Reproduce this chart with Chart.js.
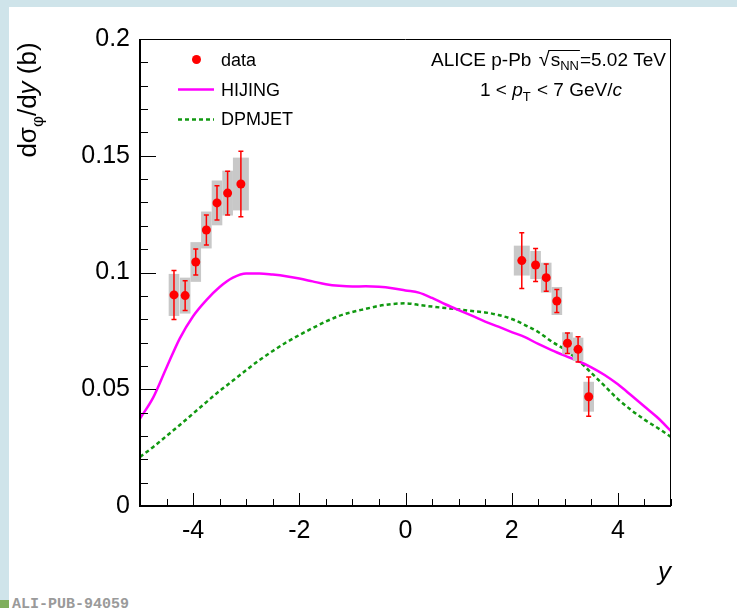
<!DOCTYPE html>
<html>
<head>
<meta charset="utf-8">
<script src="https://cdn.jsdelivr.net/npm/chart.js@4.4.1/dist/chart.umd.min.js"></script>
<style>
    body { margin: 0; width: 737px; height: 608px; overflow: hidden; background: #fff; position: relative; }
    #topStrip { position: absolute; left: 0; top: 0; width: 737px; height: 7px; background: #cfe4ea; }
    #leftStrip { position: absolute; left: 0; top: 0; width: 9px; height: 600px; background: #cfe4ea; }
    #greenBox { position: absolute; left: 0; top: 600px; width: 9px; height: 8px; background: #7fae5c; }
    #pubId { position: absolute; left: 12px; top: 597px; font: bold 15px "Liberation Mono", monospace; color: #9a9a9a; line-height: 15px; }
    #chart { position: absolute; left: 0; top: 0; }
</style>
</head>
<body>
<div id="topStrip"></div>
<div id="leftStrip"></div>
<div id="greenBox"></div>
<div id="pubId">ALI-PUB-94059</div>
<canvas id="chart" width="737" height="608"></canvas>
<script>
// measured points (rapidity bin centres, half widths, dsigma/dy, errors)
const dataRapidity = [-4.36, -4.15, -3.95, -3.75, -3.55, -3.35, -3.10, 2.19, 2.45, 2.65, 2.85, 3.05, 3.25, 3.45];
const dataHalfWidth = [0.1, 0.1, 0.1, 0.1, 0.1, 0.1, 0.15, 0.15, 0.1, 0.1, 0.1, 0.1, 0.1, 0.1];
const dataValues = [0.0904, 0.0901, 0.1045, 0.1182, 0.1298, 0.1340, 0.1379, 0.1051, 0.1032, 0.0978, 0.0878, 0.0697, 0.0671, 0.0468];
const statErrors = [0.0105, 0.0064, 0.0056, 0.0064, 0.0073, 0.0094, 0.0140, 0.0119, 0.0071, 0.0058, 0.0049, 0.0044, 0.0054, 0.0084];
const systErrors = [0.0090, 0.0077, 0.0085, 0.0079, 0.0096, 0.0096, 0.0113, 0.0064, 0.0060, 0.0064, 0.0060, 0.0047, 0.0050, 0.0064];

// model curves
const modelRapidity = [-5, -4.75, -4.5, -4.25, -4, -3.75, -3.5, -3.25, -3, -2.75, -2.5, -2.25, -2, -1.75, -1.5, -1.25, -1, -0.75, -0.5, -0.25,
    0, 0.25, 0.5, 0.75, 1, 1.25, 1.5, 1.75, 2, 2.25, 2.5, 2.75, 3, 3.25, 3.5, 3.75, 4, 4.25, 4.5, 4.75, 5];
const hijingValues = [0.0374, 0.0465, 0.0593, 0.0718, 0.0813, 0.0882, 0.0938, 0.0978, 0.0996, 0.0996, 0.0991, 0.0984, 0.0974, 0.0962, 0.0950, 0.0943, 0.0940, 0.0941, 0.0939, 0.0933,
    0.0923, 0.0914, 0.0891, 0.0864, 0.0839, 0.0815, 0.0790, 0.0768, 0.0745, 0.0723, 0.0694, 0.0668, 0.0644, 0.0621, 0.0594, 0.0561, 0.0521, 0.0474, 0.0426, 0.0378, 0.0321];
const dpmjetValues = [0.0210, 0.0253, 0.0300, 0.0347, 0.0396, 0.0445, 0.0493, 0.0537, 0.0582, 0.0625, 0.0664, 0.0700, 0.0732, 0.0762, 0.0790, 0.0814, 0.0831, 0.0844, 0.0857, 0.0865,
    0.0868, 0.0861, 0.0854, 0.0848, 0.0842, 0.0835, 0.0829, 0.0818, 0.0801, 0.0775, 0.0745, 0.0705, 0.0670, 0.0625, 0.0570, 0.0514, 0.0458, 0.0411, 0.0370, 0.0334, 0.0296];

// axes
const xTickValues = [-4, -2, 0, 2, 4];
const xTickLabels = ['-4', '-2', '0', '2', '4'];
const yTickValues = [0, 0.05, 0.1, 0.15, 0.2];
const yTickLabels = ['0', '0.05', '0.1', '0.15', '0.2'];

const FONT = '"Liberation Sans", Arial, Helvetica, sans-serif';
const RED = '#ff0000';
const MAGENTA = '#ff00ff';
const GREEN = '#119911';

function setFont(ctx, size, style) {
    ctx.font = `${style || ''} ${size}px ${FONT}`;
}

// draws a row of text pieces (for sub/superscripts), returns piece positions
function drawPieces(ctx, pieces, x, y, align) {
    let total = 0;
    pieces.forEach(p => {
        setFont(ctx, p.size, p.style);
        p.w = ctx.measureText(p.text).width + (p.gap || 0);
        total += p.w;
    });
    let cx = align === 'right' ? x - total : (align === 'center' ? x - total / 2 : x);
    pieces.forEach(p => {
        setFont(ctx, p.size, p.style);
        p.x = cx;
        ctx.fillText(p.text, cx, y + (p.dy || 0));
        cx += p.w;
    });
    return pieces;
}

const decorPlugin = {
    id: 'decor',
    beforeDatasetDraw(chart, args) {
        if (args.index !== 0) return;
        const ctx = chart.ctx;
        const xs = chart.scales.x, ys = chart.scales.y;
        ctx.save();
        // systematic boxes
        ctx.fillStyle = '#c8c8c8';
        dataRapidity.forEach((r, i) => {
            const x0 = xs.getPixelForValue(r - dataHalfWidth[i]);
            const x1 = xs.getPixelForValue(r + dataHalfWidth[i]);
            const y0 = ys.getPixelForValue(dataValues[i] + systErrors[i]);
            const y1 = ys.getPixelForValue(dataValues[i] - systErrors[i]);
            ctx.fillRect(x0, y0, x1 - x0, y1 - y0);
        });
        // statistical error bars
        ctx.strokeStyle = RED;
        ctx.lineWidth = 1.5;
        dataRapidity.forEach((r, i) => {
            const px = xs.getPixelForValue(r);
            const yt = ys.getPixelForValue(dataValues[i] + statErrors[i]);
            const yb = ys.getPixelForValue(dataValues[i] - statErrors[i]);
            ctx.beginPath();
            ctx.moveTo(px, yt); ctx.lineTo(px, yb);
            ctx.moveTo(px - 2.5, yt); ctx.lineTo(px + 2.5, yt);
            ctx.moveTo(px - 2.5, yb); ctx.lineTo(px + 2.5, yb);
            ctx.stroke();
        });
        ctx.restore();
    },
    afterDatasetsDraw(chart) {
        const ctx = chart.ctx;
        const a = chart.chartArea;
        const xs = chart.scales.x, ys = chart.scales.y;
        ctx.save();
        ctx.strokeStyle = '#000';
        // frame
        ctx.lineWidth = 1;
        ctx.beginPath();
        ctx.moveTo(a.left, a.top + 0.5); ctx.lineTo(a.right, a.top + 0.5);
        ctx.moveTo(a.right - 0.5, a.top); ctx.lineTo(a.right - 0.5, a.bottom);
        ctx.stroke();
        ctx.lineWidth = 2;
        ctx.beginPath();
        ctx.moveTo(a.left, a.top); ctx.lineTo(a.left, a.bottom + 1);
        ctx.moveTo(a.left - 1, a.bottom); ctx.lineTo(a.right, a.bottom);
        ctx.stroke();
        // inner ticks, y axis
        ctx.lineWidth = 1;
        ctx.beginPath();
        for (let v = 0; v <= 0.2001; v += 0.01) {
            const py = Math.round(ys.getPixelForValue(v)) + 0.5;
            const major = Math.abs(v / 0.05 - Math.round(v / 0.05)) < 1e-6;
            ctx.moveTo(a.left, py); ctx.lineTo(a.left + (major ? 16 : 8), py);
        }
        // inner ticks, x axis
        for (let v = -5; v <= 5.001; v += 0.5) {
            const px = Math.round(xs.getPixelForValue(v)) + 0.5;
            const major = Math.abs(v / 2 - Math.round(v / 2)) < 1e-6;
            ctx.moveTo(px, a.bottom); ctx.lineTo(px, a.bottom - (major ? 13 : 7));
        }
        ctx.stroke();
        ctx.restore();
    },
    afterDraw(chart) {
        const ctx = chart.ctx;
        const ds = chart.data.datasets;
        ctx.save();
        ctx.fillStyle = '#000';
        ctx.textBaseline = 'alphabetic';

        // legend
        ctx.fillStyle = ds[0].pointBackgroundColor;
        ctx.beginPath();
        ctx.arc(196.5, 59.5, 4.5, 0, Math.PI * 2);
        ctx.fill();
        ctx.lineWidth = 2.5;
        ctx.strokeStyle = ds[1].borderColor;
        ctx.beginPath(); ctx.moveTo(178, 89.5); ctx.lineTo(214, 89.5); ctx.stroke();
        ctx.strokeStyle = ds[2].borderColor;
        ctx.setLineDash(ds[2].borderDash);
        ctx.beginPath(); ctx.moveTo(178, 119.5); ctx.lineTo(214, 119.5); ctx.stroke();
        ctx.setLineDash([]);
        ctx.fillStyle = '#000';
        setFont(ctx, 18);
        ctx.fillText(ds[0].label, 221, 66);
        ctx.fillText(ds[1].label, 221, 96);
        ctx.fillText(ds[2].label, 221, 125);

        // collision system label
        const line1 = drawPieces(ctx, [
            { text: 'ALICE p-Pb ', size: 19, gap: 2 },
            { text: '\u221A', size: 20, gap: 1 },
            { text: 's', size: 19 },
            { text: 'NN', size: 13, dy: 4, gap: 1 },
            { text: '=5.02 TeV', size: 19 }
        ], 666, 66, 'right');
        ctx.lineWidth = 1;
        ctx.strokeStyle = '#000';
        ctx.beginPath();
        ctx.moveTo(line1[1].x + line1[1].w - 2, 50.5);
        ctx.lineTo(line1[3].x + line1[3].w, 50.5);
        ctx.stroke();
        drawPieces(ctx, [
            { text: '1 < ', size: 19 },
            { text: 'p', size: 19, style: 'italic' },
            { text: 'T', size: 13, dy: 5, gap: 1 },
            { text: ' < 7 GeV/', size: 19 },
            { text: 'c', size: 19, style: 'italic' }
        ], 551, 96, 'center');

        // y axis title
        ctx.save();
        ctx.translate(36, 100);
        ctx.rotate(-Math.PI / 2);
        drawPieces(ctx, [
            { text: 'd\u03C3', size: 26 },
            { text: '\u03C6', size: 17, dy: 7 },
            { text: '/d', size: 26 },
            { text: 'y', size: 26, style: 'italic' },
            { text: ' (b)', size: 26 }
        ], 0, 0, 'center');
        ctx.restore();

        // x axis title
        setFont(ctx, 26, 'italic');
        ctx.textAlign = 'right';
        ctx.fillText('y', 671, 580);
        ctx.restore();
    }
};

const ctx = document.getElementById('chart').getContext('2d');
new Chart(ctx, {
    type: 'scatter',
    data: {
        datasets: [
            {
                label: 'data',
                data: dataRapidity.map((r, i) => ({ x: r, y: dataValues[i] })),
                showLine: false,
                pointRadius: 4.5,
                pointBorderWidth: 0,
                pointBackgroundColor: RED,
                pointBorderColor: RED,
                order: 0
            },
            {
                type: 'line',
                label: 'HIJING',
                data: modelRapidity.map((r, i) => ({ x: r, y: hijingValues[i] })),
                borderColor: MAGENTA,
                borderWidth: 2.5,
                pointRadius: 0,
                fill: false,
                cubicInterpolationMode: 'monotone',
                order: 1
            },
            {
                type: 'line',
                label: 'DPMJET',
                data: modelRapidity.map((r, i) => ({ x: r, y: dpmjetValues[i] })),
                borderColor: GREEN,
                borderWidth: 2.5,
                borderDash: [4, 3],
                pointRadius: 0,
                fill: false,
                cubicInterpolationMode: 'monotone',
                order: 2
            }
        ]
    },
    options: {
        responsive: false,
        animation: false,
        devicePixelRatio: 1,
        layout: { padding: { left: 0, top: 39, right: 66, bottom: 42 } },
        plugins: {
            legend: { display: false },
            tooltip: { enabled: false }
        },
        scales: {
            x: {
                type: 'linear',
                position: 'bottom',
                min: -5,
                max: 5,
                grid: { display: false, drawTicks: false },
                border: { display: false },
                afterBuildTicks: s => { s.ticks = xTickValues.map(v => ({ value: v })); },
                afterFit: s => { s.height = 60; },
                ticks: {
                    color: '#000',
                    padding: 10,
                    maxRotation: 0,
                    font: { family: FONT, size: 25 },
                    callback: v => xTickLabels[xTickValues.indexOf(v)]
                }
            },
            y: {
                type: 'linear',
                min: 0,
                max: 0.2,
                grid: { display: false, drawTicks: false },
                border: { display: false },
                afterBuildTicks: s => { s.ticks = yTickValues.map(v => ({ value: v })); },
                afterFit: s => { s.width = 140; },
                ticks: {
                    color: '#000',
                    padding: 10,
                    font: { family: FONT, size: 25 },
                    callback: v => yTickLabels[yTickValues.indexOf(v)]
                }
            }
        }
    },
    plugins: [decorPlugin]
});
</script>
</body>
</html>
